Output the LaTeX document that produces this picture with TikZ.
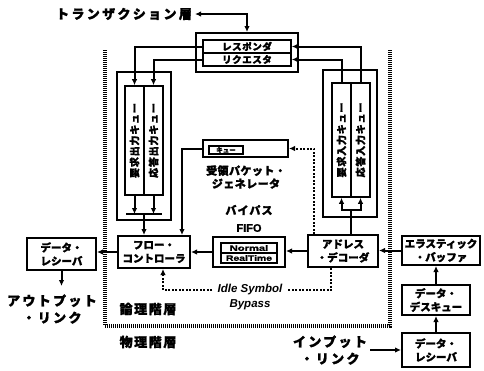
\documentclass[tikz,border=0pt]{standalone}
\usepackage{fontspec}
\setmainfont{Noto Sans CJK JP}[BoldFeatures={FakeBold=1.6}]
\newfontfamily\lat{Liberation Sans}[BoldFeatures={FakeBold=1.2}]
\usetikzlibrary{arrows.meta,calc}
\newcommand{\fs}[1]{\fontsize{#1}{#1}\selectfont}
\begin{document}
\begin{tikzpicture}[x=1pt,y=-1pt,
  box/.style={draw,line width=2pt,fill=white,inner sep=0pt,align=center,font=\bfseries\fontsize{10.5}{13.5}\selectfont},
  sbox/.style={draw,line width=1.5pt,inner sep=0pt,align=center},
  arr/.style={line width=2pt,-{Latex[length=6pt,width=5.5pt]}},
  ln/.style={line width=2pt},
  dotarr/.style={line width=2pt,dash pattern=on 2pt off 1.5pt,-{Latex[length=6pt,width=5.5pt]}},
  dotl/.style={line width=2pt,dash pattern=on 2pt off 1.5pt},
  bound/.style={line width=3.2pt,dash pattern=on 1pt off 1pt},
  lbl/.style={inner sep=0pt,align=center,font=\bfseries\fontsize{13}{17}\selectfont\addfontfeature{LetterSpace=18}},
  qtxt/.style={rotate=90,inner sep=0pt,font=\bfseries\fs{10}\addfontfeature{LetterSpace=8}},
  lattxt/.style={inner sep=0pt,font=\lat\bfseries\fs{8}}]
\useasboundingbox[fill=white] (0,0) rectangle (484,370);
% layer boundary
\draw[bound] (105,50) -- (105,326) -- (390,326) -- (390,50);
% title
\node[lbl] (title) at (124,14) {トランザクション層};
% transaction box
\node[box,minimum width=102,minimum height=39] (trans) at (247,52.5) {};
\node[box,line width=1.6pt,font=\bfseries\fs{9.5}\addfontfeature{LetterSpace=6},minimum width=88,minimum height=13] (resp) at (247,46.5) {レスポンダ};
\node[box,line width=1.6pt,font=\bfseries\fs{9.5}\addfontfeature{LetterSpace=6},minimum width=88,minimum height=13] (req) at (247,59.5) {リクエスタ};
\draw[line width=2pt,{Latex[length=6pt,width=5.5pt]}-{Latex[length=6pt,width=5.5pt]}] (title.east) ++(3,0) -| (trans.north);
% left queues
\node[box,minimum width=54,minimum height=148] (lq) at (144,146) {};
\node[box,line width=1.6pt,minimum width=19,minimum height=109] (lq1) at (134.5,140.5) {};
\node[box,line width=1.6pt,minimum width=19,minimum height=109] (lq2) at (153.5,140.5) {};
\node[qtxt] (lq1t) at (lq1) {要求出力キュー};
\node[qtxt] (lq2t) at (lq2) {応答出力キュー};
% right queues
\node[box,minimum width=54,minimum height=147] (rq) at (350,143.5) {};
\node[box,line width=1.6pt,minimum width=19,minimum height=114] (rq1) at (341.5,140) {};
\node[box,line width=1.6pt,minimum width=19,minimum height=114] (rq2) at (360.5,140) {};
\node[qtxt] (rq1t) at (rq1) {要求入力キュー};
\node[qtxt] (rq2t) at (rq2) {応答入力キュー};
% transaction connections
\draw[arr] (resp.west) -| (lq1.north);
\draw[arr] (req.west) -| (lq2.north);
\draw[arr] (rq2.north) |- (resp.east);
\draw[arr] (rq1.north) |- (req.east);
% main blocks
\node[box,minimum width=72,minimum height=32] (fc) at (154,252) {フロー・\\コントローラ};
\node[box,minimum width=72,minimum height=30] (fifo) at (249,252) {};
\node[sbox,minimum width=56,minimum height=10] (nrm) at (249,248) {\lat\bfseries\fs{8}\scalebox{1.4}[1]{Normal}};
\node[sbox,minimum width=56,minimum height=10] (rt) at (249,258) {\lat\bfseries\fs{8}\scalebox{1.3}[1]{RealTime}};
\node[box,minimum width=70,minimum height=32] (ad) at (343,251) {アドレス\\・デコーダ};
\node[box,minimum width=69,minimum height=32] (drl) at (61.5,254) {データ・\\レシーバ};
\node[box,minimum width=78,minimum height=29] (eb) at (441,250.5) {エラスティック\\・バッファ};
\node[box,minimum width=68,minimum height=30] (ds) at (436,300) {データ・\\デスキュー};
\node[box,minimum width=68,minimum height=34] (drr) at (436,350) {データ・\\レシーバ};
% generator
\node[box,minimum width=85,minimum height=17] (gen) at (245.5,148.5) {};
\node[sbox,minimum width=34,minimum height=8,font=\bfseries\fs{6.5}] (genq) at (226,150) {キュー};
\node[inner sep=0pt,align=center,font=\bfseries\fontsize{11}{13}\selectfont\addfontfeature{LetterSpace=4}] (genl) at (246,177) {受領パケット・\\ジェネレータ};
% bypass labels
\node[inner sep=0pt,font=\bfseries\fs{11}\addfontfeature{LetterSpace=10}] (bypl) at (249,210) {バイパス};
\node[inner sep=0pt,font=\lat\bfseries\fs{11}] (fifol) at (249,228) {FIFO};
% left queue fork
\coordinate (lbar) at (144,214);
\draw[arr] (lq1.south) -- (lq1.south |- lbar);
\draw[arr] (lq2.south) -- (lq2.south |- lbar);
\draw[ln] ([xshift=-18pt]lbar) -- ([xshift=18pt]lbar);
\draw[arr] (lbar) -- (lbar |- fc.north);
% right queue fork
\coordinate (rbar) at (351,210);
\draw[ln] (rbar |- ad.north) -- (rbar);
\draw[arr] (rbar) -| (rq1.south);
\draw[arr] (rbar) -| (rq2.south);
% generator links
\draw[arr] (gen.west) -| ([xshift=-9pt]fc.north east);
\draw[dotarr] ([xshift=7pt]ad.north west) |- (gen.east);
% data path
\draw[arr] (fc.west) -- (fc.west -| drl.east);
\draw[arr] (fifo.west) -- (fifo.west -| fc.east);
\draw[arr] (ad.west) -- (ad.west -| fifo.east);
\draw[arr] (eb.west) -- (eb.west -| ad.east);
\coordinate (outend) at (61.5,286);
\draw[arr] (drl.south) -- (outend);
\node[lbl] (outl) at (52,309) {アウトプット\\・リンク};
\draw[arr] (ds.north) -- (ds.north |- eb.south);
\draw[arr] (drr.north) -- (ds.south);
\node[lbl] (inl) at (330,350) {インプット\\・リンク};
\draw[arr,shorten <=3pt] (inl.east) -- (inl.east -| drr.west);
% idle symbol bypass
\node[inner sep=0pt,align=center,font=\lat\bfseries\itshape\fontsize{11.5}{15}\selectfont] (idle) at (250,297.5) {Idle Symbol\\Bypass};
\coordinate (isR) at (288,290);
\coordinate (isL) at (212,290);
\draw[dotl] ([xshift=24pt]ad.south west) |- (isR);
\draw[dotarr] (isL) -| ([xshift=9pt]fc.south);
% layer labels
\node[lbl,font=\bfseries\fs{13}\addfontfeature{LetterSpace=12}] (ronri) at (148,309) {論理階層};
\node[lbl,font=\bfseries\fs{13}\addfontfeature{LetterSpace=12}] (butsuri) at (148,342) {物理階層};
\end{tikzpicture}
\end{document}
